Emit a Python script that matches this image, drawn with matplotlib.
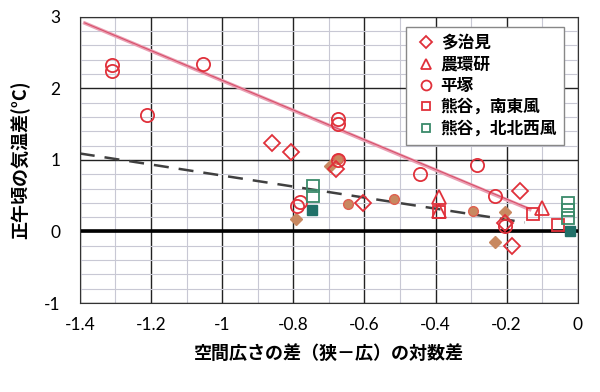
import numpy as np
import matplotlib
matplotlib.use("Agg")
import matplotlib.pyplot as plt
from matplotlib.ticker import MultipleLocator

plt.rcParams['font.family'] = ['Noto Sans CJK JP', 'DejaVu Sans']

# open markers (legend series)
tajimi_x = [-0.861, -0.805, -0.68, -0.604, -0.163, -0.205, -0.184]
tajimi_y = [1.24, 1.11, 0.88, 0.40, 0.56, 0.12, -0.21]

nokanken_x = [-0.39, -0.39, -0.10]
nokanken_y = [0.48, 0.29, 0.33]

hiratsuka_x = [-1.31, -1.31, -1.21, -1.054, -0.674, -0.674, -0.674, -0.782, -0.79,
               -0.444, -0.284, -0.233, -0.205]
hiratsuka_y = [2.33, 2.24, 1.63, 2.34, 1.57, 1.50, 1.00, 0.41, 0.36,
               0.80, 0.93, 0.50, 0.08]

kumagaya_se_x = [-0.39, -0.126, -0.055]
kumagaya_se_y = [0.27, 0.24, 0.09]

kumagaya_nnw_x = [-0.744, -0.744, -0.027, -0.027, -0.027]
kumagaya_nnw_y = [0.63, 0.50, 0.40, 0.30, 0.19]

# filled markers (not in legend)
brown_dia_x = [-0.697, -0.793, -0.205, -0.233]
brown_dia_y = [0.92, 0.18, 0.27, -0.15]

brown_cir_x = [-0.674, -0.646, -0.517, -0.296]
brown_cir_y = [1.02, 0.39, 0.45, 0.29]

teal_sq_x = [-0.746, -0.022]
teal_sq_y = [0.30, 0.00]

# trend lines (intercept, slope, x range)
red_fit = (0.027, -2.082)
red_x = [-1.386, -0.135]
dash_fit = (0.011, -0.771)
dash_x = [-1.40, -0.149]

red = '#e0303a'

fig = plt.figure(figsize=(6, 3.92), dpi=100)
ax = fig.add_axes([0.133, 0.227, 0.83, 0.73])

ax.set_xlim(-1.4, 0)
ax.set_ylim(-1, 3)
ax.xaxis.set_major_locator(MultipleLocator(0.2))
ax.xaxis.set_minor_locator(MultipleLocator(0.1))
ax.yaxis.set_major_locator(MultipleLocator(1))
ax.yaxis.set_minor_locator(MultipleLocator(0.2))
ax.grid(which='minor', color='#c8c8d4', lw=0.8)
ax.grid(which='major', color='#222222', lw=1.0)
ax.set_axisbelow(True)
ax.axhline(0, color='black', lw=2.6, zorder=1)
ax.tick_params(which='both', length=0)
for s in ax.spines.values():
    s.set_color('#333333')

# lines
xr = np.array(red_x)
ax.plot(xr, red_fit[0] + red_fit[1] * xr, color='#eaa0b4', lw=2.6, zorder=2)
ax.plot(xr, red_fit[0] + 0.01 + (red_fit[1] + 0.005) * xr, color='#d8506a', lw=0.8, zorder=2)
xd = np.array(dash_x)
ax.plot(xd, dash_fit[0] + dash_fit[1] * xd, color='#404040', lw=1.8,
        dashes=(6, 4), zorder=2)

ms = 9.5
ax.plot(brown_dia_x, brown_dia_y, 'D', ms=6, mfc='#c88860', mec='#c88860', ls='none', zorder=3)
ax.plot(brown_cir_x, brown_cir_y, 'o', ms=7, mfc='#c88860', mec='#e06050', mew=1, ls='none', zorder=3)
ax.plot(teal_sq_x, teal_sq_y, 's', ms=6.5, mfc='#207068', mec='#207068', ls='none', zorder=3)

kw = dict(ls='none', mfc='none', mew=1.3, zorder=4)
ax.plot(tajimi_x, tajimi_y, 'D', ms=8, mec=red, label='多治見', **kw)
ax.plot(nokanken_x, nokanken_y, '^', ms=ms, mec=red, label='農環研', **kw)
ax.plot(hiratsuka_x, hiratsuka_y, 'o', ms=ms, mec=red, label='平塚', **kw)
ax.plot(kumagaya_se_x, kumagaya_se_y, 's', ms=8.5, mec=red, label='熊谷，南東風', **kw)
ax.plot(kumagaya_nnw_x, kumagaya_nnw_y, 's', ms=8.5, mec='#3a8a6a', label='熊谷，北北西風', **kw)

leg = ax.legend(loc='upper right', bbox_to_anchor=(0.99, 0.995), fancybox=False,
                framealpha=1, edgecolor='#888888', handletextpad=0.2,
                handlelength=1.4, borderpad=0.45, labelspacing=0.2, markerscale=0.75,
                prop={'family': ['Noto Sans CJK JP'], 'weight': 'bold', 'size': 12})
leg.set_zorder(6)

ax.set_xticks(np.round(np.arange(-1.4, 0.01, 0.2), 1))
ax.set_xticklabels(['-1.4', '-1.2', '-1', '-0.8', '-0.6', '-0.4', '-0.2', '0'])
ax.set_yticks([-1, 0, 1, 2, 3])
ax.set_yticklabels(['-1', '0', '1', '2', '3'])
for lab in ax.get_xticklabels() + ax.get_yticklabels():
    lab.set_family(['Lato', 'DejaVu Sans'])
    lab.set_fontsize(12.5)
ax.tick_params(axis='x', pad=10)
ax.tick_params(axis='y', pad=14)

ax.set_xlabel('空間広さの差（狭－広）の対数差', fontsize=13, fontweight='bold', labelpad=8)
ax.set_ylabel('正午頃の気温差(°C)', fontsize=13, fontweight='bold', labelpad=10)

fig.savefig('out.png', dpi=100)
